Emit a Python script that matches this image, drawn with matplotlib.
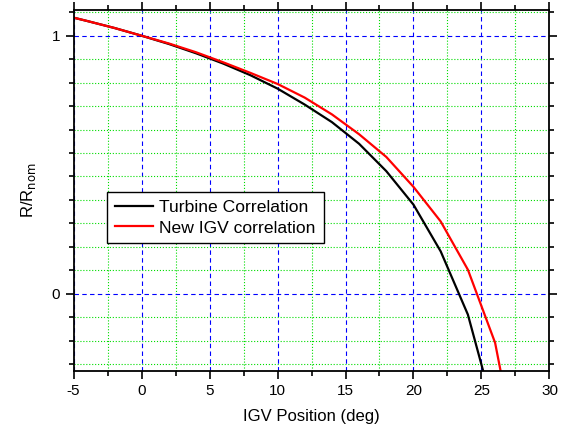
import numpy as np
import matplotlib.pyplot as plt
from matplotlib.ticker import MultipleLocator, FixedLocator

plt.rcParams['font.family'] = ['Liberation Sans', 'DejaVu Sans']
plt.rcParams['axes.unicode_minus'] = False

igv_pos = [-5, -4, -2, 0, 2, 4, 6, 8, 10, 12, 14, 16, 18, 20, 22, 24, 26, 28]
turbine = [1.07, 1.057, 1.03, 1.0, 0.968, 0.932, 0.892, 0.847, 0.795, 0.733,
           0.665, 0.581, 0.475, 0.345, 0.164, -0.081, -0.47, -0.9]
new_igv = [1.07, 1.057, 1.03, 1.0, 0.97, 0.936, 0.897, 0.856, 0.813, 0.76,
           0.695, 0.618, 0.530, 0.414, 0.28, 0.093, -0.19, -0.73]

fig = plt.figure(figsize=(5.7, 4.3), dpi=100)
ax = fig.add_axes([0.129, 0.137, 0.835, 0.84])

ax.plot(igv_pos, turbine, color='black', lw=1.6, label='Turbine Correlation')
ax.plot(igv_pos, new_igv, color='red', lw=1.6, label='New IGV correlation')

ax.set_xlim(-5, 30)
ax.set_ylim(-0.3, 1.1)
ax.xaxis.set_major_locator(MultipleLocator(5))
ax.xaxis.set_minor_locator(MultipleLocator(2.5))
ax.yaxis.set_major_locator(FixedLocator([0, 1]))
ax.yaxis.set_minor_locator(MultipleLocator(1 / 11))

ax.grid(which='minor', color='#00dd00', ls=':', lw=0.8)
ax.grid(which='major', color='blue', ls=(0, (4, 3)), lw=0.8)
ax.set_axisbelow(True)

ax.tick_params(which='both', direction='out', top=True, right=True,
               labelsize=11, width=1.2)
ax.tick_params(which='major', length=6)
ax.tick_params(which='minor', length=3.5)
for s in ax.spines.values():
    s.set_linewidth(1.3)

ax.set_xlabel('IGV Position (deg)', fontsize=12, labelpad=8)
ax.set_ylabel('R/R$_{\\mathrm{nom}}$', fontsize=12, labelpad=10)

leg = ax.legend(loc='upper left', bbox_to_anchor=(0.07, 0.496), fontsize=12.6,
                fancybox=False, framealpha=1, edgecolor='black',
                handlelength=2.2, handletextpad=0.35, borderpad=0.45,
                labelspacing=0.3, borderaxespad=0)
leg.get_frame().set_linewidth(1.0)

fig.savefig('out.png', dpi=100)
